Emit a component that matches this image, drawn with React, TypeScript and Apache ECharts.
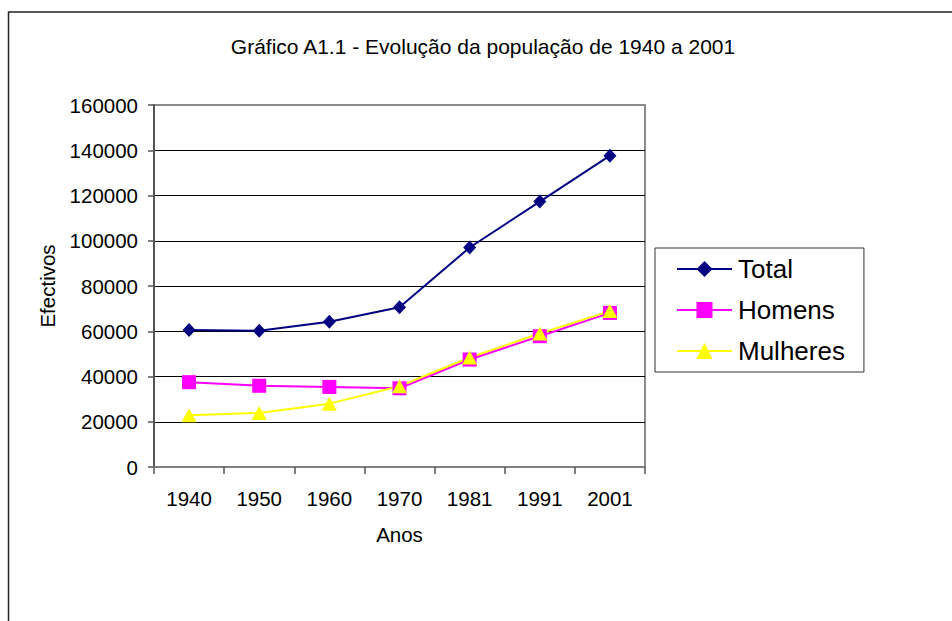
import React, { useEffect, useRef } from "react";
import * as echarts from "echarts";

const categories = ["1940", "1950", "1960", "1970", "1981", "1991", "2001"];
const totalValues = [60500, 60200, 64200, 70600, 97000, 117300, 137600];
const homensValues = [37500, 35900, 35400, 34800, 47500, 57800, 68100];
const mulheresValues = [22900, 23900, 28000, 35700, 48400, 59000, 68900];
const yMin = 0;
const yMax = 160000;
const yStep = 20000;

const FONT = "'Liberation Sans', Arial, sans-serif";

export default function App() {
  const ref = useRef<HTMLDivElement>(null);
  useEffect(() => {
    if (!ref.current) return;
    const chart = echarts.init(ref.current, null, { renderer: "svg" });
    chart.setOption({
      animation: false,
      backgroundColor: "#ffffff",
      textStyle: { fontFamily: FONT, color: "#000" },
      title: {
        text: "Gráfico A1.1 - Evolução da população de 1940 a 2001",
        left: 478,
        top: 31,
        textAlign: "center",
        textStyle: { fontFamily: FONT, fontSize: 21, fontWeight: "normal", color: "#000" },
      },
      graphic: [
        {
          type: "polyline",
          shape: { points: [[8.5, 700], [8.5, 12], [1000, 12]] },
          style: { stroke: "#222", lineWidth: 1.5, fill: "none" },
          silent: true,
        },
      ],
      grid: {
        left: 154,
        top: 105,
        right: 307,
        bottom: 154,
        show: true,
        borderColor: "#8c8c8c",
        borderWidth: 2,
        containLabel: false,
      },
      legend: {
        orient: "vertical",
        left: 655,
        top: 248,
        padding: [8, 19, 8, 21],
        itemWidth: 55,
        itemHeight: 20,
        itemGap: 15,
        borderColor: "#333",
        borderWidth: 1,
        backgroundColor: "#fff",
        textStyle: { fontFamily: FONT, fontSize: 26, color: "#000", padding: [0, 0, 0, 1] },
        data: ["Total", "Homens", "Mulheres"],
      },
      xAxis: {
        type: "category",
        data: categories,
        boundaryGap: true,
        name: "Anos",
        nameLocation: "middle",
        nameGap: 57,
        nameTextStyle: { fontFamily: FONT, fontSize: 20.5, color: "#000" },
        axisLine: { show: true, lineStyle: { color: "#808080", width: 2 } },
        axisTick: { show: true, length: 7, lineStyle: { color: "#555", width: 1.5 } },
        axisLabel: { fontFamily: FONT, fontSize: 20.5, color: "#000", margin: 21 },
        splitLine: { show: false },
      },
      yAxis: {
        type: "value",
        min: yMin,
        max: yMax,
        interval: yStep,
        name: "Efectivos",
        nameLocation: "middle",
        nameRotate: 90,
        nameGap: 96,
        nameTextStyle: { fontFamily: FONT, fontSize: 20.5, color: "#000" },
        axisLine: { show: true, lineStyle: { color: "#555", width: 2 } },
        axisTick: { show: true, length: 6, lineStyle: { color: "#555", width: 1.5 } },
        axisLabel: {
          fontFamily: FONT,
          fontSize: 20.5,
          color: "#000",
          margin: 16,
          formatter: (v: number) => String(v),
        },
        splitLine: { show: true, showMinLine: false, showMaxLine: false, lineStyle: { color: "#000", width: 1 } },
      },
      series: [
        {
          name: "Total",
          type: "line",
          data: totalValues,
          symbol: "diamond",
          symbolSize: [13, 14],
          lineStyle: { color: "#000080", width: 2 },
          itemStyle: { color: "#000080" },
        },
        {
          name: "Homens",
          type: "line",
          data: homensValues,
          symbol: "rect",
          symbolSize: 14,
          lineStyle: { color: "#ff00ff", width: 2 },
          itemStyle: { color: "#ff00ff" },
        },
        {
          name: "Mulheres",
          type: "line",
          data: mulheresValues,
          symbol: "triangle",
          symbolSize: [15, 14],
          lineStyle: { color: "#ffff00", width: 2 },
          itemStyle: { color: "#ffff00" },
        },
      ],
    });
    return () => chart.dispose();
  }, []);
  return (
    <div
      ref={ref}
      style={{ position: "absolute", left: 0, top: 0, width: 952, height: 621 }}
    />
  );
}
